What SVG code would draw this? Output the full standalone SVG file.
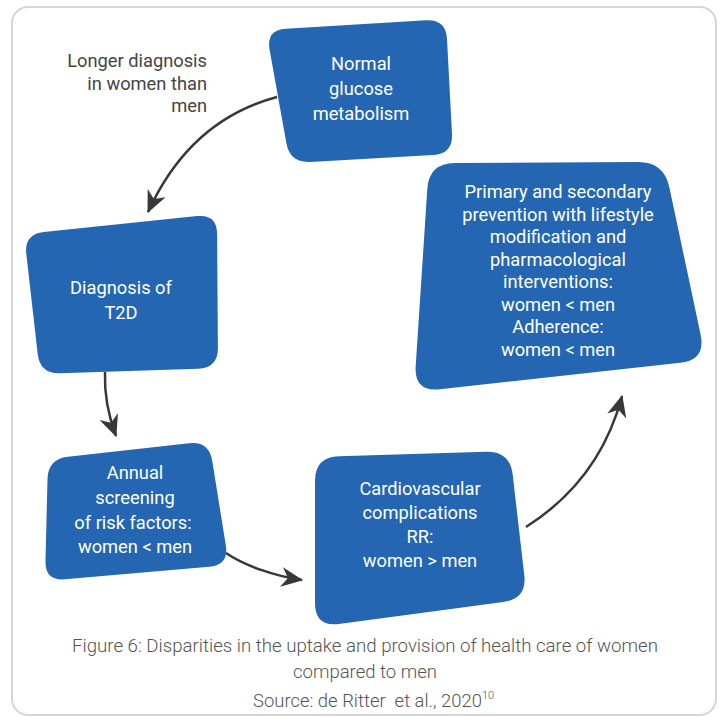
<svg xmlns="http://www.w3.org/2000/svg" width="720" height="717" viewBox="0 0 720 717">
  <style>
    .node { fill: #2466b1; }
    .ntext { font-family: Roboto, "Liberation Sans", sans-serif; font-size: 18.3px; fill: #ffffff; text-anchor: middle; }
    .label { font-family: Roboto, "Liberation Sans", sans-serif; font-size: 18.3px; fill: #444444; text-anchor: end; }
    .caption { font-family: Roboto, "Liberation Sans", sans-serif; font-weight: 300; font-size: 19px; fill: #555555; white-space: pre; }
    .sup { font-size: 11px; }
    .edge { fill: none; stroke: #383838; stroke-width: 2.5; marker-end: url(#arrow); }
  </style>
  <defs>
    <marker id="arrow" markerUnits="userSpaceOnUse" markerWidth="24" markerHeight="24" viewBox="-20 -10 22 20" refX="0" refY="0" orient="auto">
      <path d="M1,0 L-19,-9 L-13,0 L-19,9 Z" fill="#383838"/>
    </marker>
  </defs>

  <!-- frame -->
  <rect x="12" y="7" width="704" height="708" rx="16" ry="16" fill="#ffffff" stroke="#d6d6d6" stroke-width="2"/>

  <!-- connectors -->
  <g id="connectors">
    <path class="edge" d="M277,97 Q190,120 148,212"/>
    <path class="edge" d="M105,372 C104,400 110,420 116,436"/>
    <path class="edge" d="M226,553 C245,566 275,576 302,580"/>
    <path class="edge" d="M526,527 Q600,480 622,396"/>
  </g>

  <g id="label-longer-diagnosis">
    <text class="label" x="207" y="67">Longer diagnosis</text>
    <text class="label" x="207" y="90">in women than</text>
    <text class="label" x="207" y="112">men</text>
  </g>

  <g id="node-normal">
    <path class="node" d="M286,28.8 L426,20.2 Q446,19 447,39 L452,134 Q453,154 433,155.1 L310,161.9 Q290,163 286.4,143.3 L269.6,49.7 Q266,30 286,28.8 Z"/>
    <text class="ntext" x="361" y="70">Normal</text>
    <text class="ntext" x="361" y="95">glucose</text>
    <text class="ntext" x="361" y="120">metabolism</text>
  </g>

  <g id="node-diagnosis">
    <path class="node" d="M43.9,231.9 L197.1,216.1 Q217,214 217.1,234 L217.9,348 Q218,368 198,368.7 L60,373.3 Q40,374 37.7,354.1 L26.3,253.9 Q24,234 43.9,231.9 Z"/>
    <text class="ntext" x="121" y="294">Diagnosis of</text>
    <text class="ntext" x="121" y="319">T2D</text>
  </g>

  <g id="node-screening">
    <path class="node" d="M67.9,456.8 L189.1,443.2 Q209,441 212.2,460.7 L225.8,545.3 Q229,565 209.1,566.7 L64.9,579.3 Q45,581 45.5,561 L47.5,479 Q48,459 67.9,456.8 Z"/>
    <text class="ntext" x="135" y="479">Annual</text>
    <text class="ntext" x="135" y="504">screening</text>
    <text class="ntext" x="133" y="529">of risk factors:</text>
    <text class="ntext" x="135" y="553">women &lt; men</text>
  </g>

  <g id="node-cardiovascular">
    <path class="node" d="M339,456.3 L486,451.7 Q510,451 512.7,474.8 L524.3,575.2 Q527,599 503.2,602.1 L338.8,623.9 Q315,627 315,603 L315,481 Q315,457 339,456.3 Z"/>
    <text class="ntext" x="420" y="495">Cardiovascular</text>
    <text class="ntext" x="420" y="519">complications</text>
    <text class="ntext" x="420" y="543">RR:</text>
    <text class="ntext" x="420" y="567">women &gt; men</text>
  </g>

  <g id="node-prevention">
    <path class="node" d="M455,162.9 L638,162.1 Q664,162 669.4,187.4 L700.6,334.6 Q706,360 680.2,362.8 L439.8,389.2 Q414,392 415.7,366.1 L427.3,188.9 Q429,163 455,162.9 Z"/>
    <text class="ntext" x="558" y="198">Primary and secondary</text>
    <text class="ntext" x="558" y="221">prevention with lifestyle</text>
    <text class="ntext" x="558" y="243">modification and</text>
    <text class="ntext" x="558" y="266">pharmacological</text>
    <text class="ntext" x="558" y="288">interventions:</text>
    <text class="ntext" x="558" y="311">women &lt; men</text>
    <text class="ntext" x="558" y="333">Adherence:</text>
    <text class="ntext" x="558" y="356">women &lt; men</text>
  </g>

  <!-- caption -->
  <g id="caption">
    <text class="caption" x="72" y="652" textLength="586" lengthAdjust="spacingAndGlyphs">Figure 6: Disparities in the uptake and provision of health care of women</text>
    <text class="caption" x="293" y="678" textLength="144" lengthAdjust="spacingAndGlyphs">compared to men</text>
    <text class="caption" x="253" y="707"><tspan textLength="229" lengthAdjust="spacingAndGlyphs">Source: de Ritter  et al., 2020</tspan><tspan class="sup" dy="-8">10</tspan></text>
  </g>
</svg>
